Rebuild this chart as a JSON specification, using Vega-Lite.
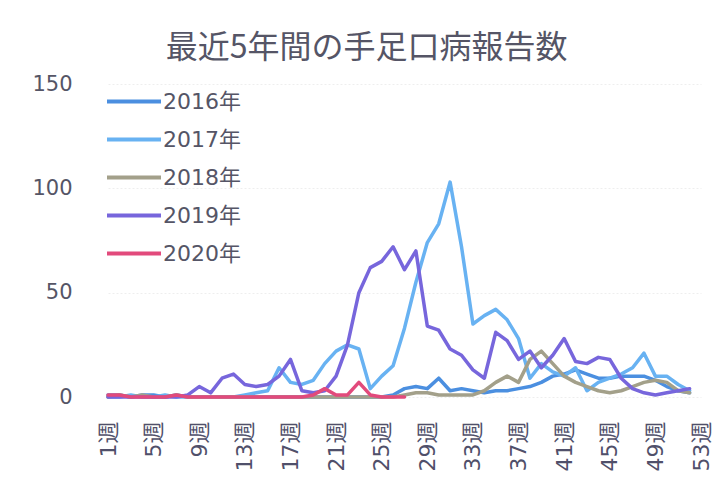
{
  "$schema": "https://vega.github.io/schema/vega-lite/v6.json",
  "width": 593,
  "height": 313,
  "autosize": "none",
  "padding": {"left": 108, "top": 84, "right": 17, "bottom": 88},
  "background": "white",
  "title": {"text": "最近5年間の手足口病報告数", "font": "Noto Sans CJK JP", "fontSize": 32, "fontWeight": "normal", "color": "#555566", "anchor": "middle", "dx": -38, "offset": 8},
  "config": {"view": {"stroke": null}},
  "data": {"values": [
    {"w":1,"y":"2016年","v":1},{"w":2,"y":"2016年","v":1},{"w":3,"y":"2016年","v":0},{"w":4,"y":"2016年","v":1},{"w":5,"y":"2016年","v":1},{"w":6,"y":"2016年","v":0},{"w":7,"y":"2016年","v":1},{"w":8,"y":"2016年","v":0},{"w":9,"y":"2016年","v":0},{"w":10,"y":"2016年","v":0},{"w":11,"y":"2016年","v":0},{"w":12,"y":"2016年","v":0},{"w":13,"y":"2016年","v":0},{"w":14,"y":"2016年","v":0},{"w":15,"y":"2016年","v":0},{"w":16,"y":"2016年","v":0},{"w":17,"y":"2016年","v":0},{"w":18,"y":"2016年","v":0},{"w":19,"y":"2016年","v":0},{"w":20,"y":"2016年","v":0},{"w":21,"y":"2016年","v":0},{"w":22,"y":"2016年","v":0},{"w":23,"y":"2016年","v":0},{"w":24,"y":"2016年","v":0},{"w":25,"y":"2016年","v":0},{"w":26,"y":"2016年","v":1},{"w":27,"y":"2016年","v":4},{"w":28,"y":"2016年","v":5},{"w":29,"y":"2016年","v":4},{"w":30,"y":"2016年","v":9},{"w":31,"y":"2016年","v":3},{"w":32,"y":"2016年","v":4},{"w":33,"y":"2016年","v":3},{"w":34,"y":"2016年","v":2},{"w":35,"y":"2016年","v":3},{"w":36,"y":"2016年","v":3},{"w":37,"y":"2016年","v":4},{"w":38,"y":"2016年","v":5},{"w":39,"y":"2016年","v":7},{"w":40,"y":"2016年","v":10},{"w":41,"y":"2016年","v":11},{"w":42,"y":"2016年","v":13},{"w":43,"y":"2016年","v":11},{"w":44,"y":"2016年","v":9},{"w":45,"y":"2016年","v":9},{"w":46,"y":"2016年","v":10},{"w":47,"y":"2016年","v":10},{"w":48,"y":"2016年","v":10},{"w":49,"y":"2016年","v":8},{"w":50,"y":"2016年","v":5},{"w":51,"y":"2016年","v":3},{"w":52,"y":"2016年","v":2},
    {"w":1,"y":"2017年","v":0},{"w":2,"y":"2017年","v":0},{"w":3,"y":"2017年","v":1},{"w":4,"y":"2017年","v":0},{"w":5,"y":"2017年","v":0},{"w":6,"y":"2017年","v":1},{"w":7,"y":"2017年","v":0},{"w":8,"y":"2017年","v":0},{"w":9,"y":"2017年","v":0},{"w":10,"y":"2017年","v":0},{"w":11,"y":"2017年","v":0},{"w":12,"y":"2017年","v":0},{"w":13,"y":"2017年","v":1},{"w":14,"y":"2017年","v":2},{"w":15,"y":"2017年","v":3},{"w":16,"y":"2017年","v":14},{"w":17,"y":"2017年","v":7},{"w":18,"y":"2017年","v":6},{"w":19,"y":"2017年","v":8},{"w":20,"y":"2017年","v":16},{"w":21,"y":"2017年","v":22},{"w":22,"y":"2017年","v":25},{"w":23,"y":"2017年","v":23},{"w":24,"y":"2017年","v":4},{"w":25,"y":"2017年","v":10},{"w":26,"y":"2017年","v":15},{"w":27,"y":"2017年","v":33},{"w":28,"y":"2017年","v":55},{"w":29,"y":"2017年","v":74},{"w":30,"y":"2017年","v":83},{"w":31,"y":"2017年","v":103},{"w":32,"y":"2017年","v":72},{"w":33,"y":"2017年","v":35},{"w":34,"y":"2017年","v":39},{"w":35,"y":"2017年","v":42},{"w":36,"y":"2017年","v":37},{"w":37,"y":"2017年","v":28},{"w":38,"y":"2017年","v":9},{"w":39,"y":"2017年","v":16},{"w":40,"y":"2017年","v":12},{"w":41,"y":"2017年","v":10},{"w":42,"y":"2017年","v":14},{"w":43,"y":"2017年","v":3},{"w":44,"y":"2017年","v":7},{"w":45,"y":"2017年","v":9},{"w":46,"y":"2017年","v":11},{"w":47,"y":"2017年","v":14},{"w":48,"y":"2017年","v":21},{"w":49,"y":"2017年","v":10},{"w":50,"y":"2017年","v":10},{"w":51,"y":"2017年","v":6},{"w":52,"y":"2017年","v":3},
    {"w":1,"y":"2018年","v":0},{"w":2,"y":"2018年","v":1},{"w":3,"y":"2018年","v":0},{"w":4,"y":"2018年","v":1},{"w":5,"y":"2018年","v":0},{"w":6,"y":"2018年","v":0},{"w":7,"y":"2018年","v":1},{"w":8,"y":"2018年","v":0},{"w":9,"y":"2018年","v":0},{"w":10,"y":"2018年","v":0},{"w":11,"y":"2018年","v":0},{"w":12,"y":"2018年","v":0},{"w":13,"y":"2018年","v":0},{"w":14,"y":"2018年","v":0},{"w":15,"y":"2018年","v":0},{"w":16,"y":"2018年","v":0},{"w":17,"y":"2018年","v":0},{"w":18,"y":"2018年","v":0},{"w":19,"y":"2018年","v":0},{"w":20,"y":"2018年","v":0},{"w":21,"y":"2018年","v":0},{"w":22,"y":"2018年","v":0},{"w":23,"y":"2018年","v":0},{"w":24,"y":"2018年","v":0},{"w":25,"y":"2018年","v":0},{"w":26,"y":"2018年","v":0},{"w":27,"y":"2018年","v":1},{"w":28,"y":"2018年","v":2},{"w":29,"y":"2018年","v":2},{"w":30,"y":"2018年","v":1},{"w":31,"y":"2018年","v":1},{"w":32,"y":"2018年","v":1},{"w":33,"y":"2018年","v":1},{"w":34,"y":"2018年","v":3},{"w":35,"y":"2018年","v":7},{"w":36,"y":"2018年","v":10},{"w":37,"y":"2018年","v":7},{"w":38,"y":"2018年","v":18},{"w":39,"y":"2018年","v":22},{"w":40,"y":"2018年","v":16},{"w":41,"y":"2018年","v":10},{"w":42,"y":"2018年","v":7},{"w":43,"y":"2018年","v":5},{"w":44,"y":"2018年","v":3},{"w":45,"y":"2018年","v":2},{"w":46,"y":"2018年","v":3},{"w":47,"y":"2018年","v":5},{"w":48,"y":"2018年","v":7},{"w":49,"y":"2018年","v":8},{"w":50,"y":"2018年","v":7},{"w":51,"y":"2018年","v":3},{"w":52,"y":"2018年","v":2},
    {"w":1,"y":"2019年","v":0},{"w":2,"y":"2019年","v":0},{"w":3,"y":"2019年","v":0},{"w":4,"y":"2019年","v":0},{"w":5,"y":"2019年","v":0},{"w":6,"y":"2019年","v":0},{"w":7,"y":"2019年","v":0},{"w":8,"y":"2019年","v":1},{"w":9,"y":"2019年","v":5},{"w":10,"y":"2019年","v":2},{"w":11,"y":"2019年","v":9},{"w":12,"y":"2019年","v":11},{"w":13,"y":"2019年","v":6},{"w":14,"y":"2019年","v":5},{"w":15,"y":"2019年","v":6},{"w":16,"y":"2019年","v":10},{"w":17,"y":"2019年","v":18},{"w":18,"y":"2019年","v":3},{"w":19,"y":"2019年","v":2},{"w":20,"y":"2019年","v":3},{"w":21,"y":"2019年","v":10},{"w":22,"y":"2019年","v":25},{"w":23,"y":"2019年","v":50},{"w":24,"y":"2019年","v":62},{"w":25,"y":"2019年","v":65},{"w":26,"y":"2019年","v":72},{"w":27,"y":"2019年","v":61},{"w":28,"y":"2019年","v":70},{"w":29,"y":"2019年","v":34},{"w":30,"y":"2019年","v":32},{"w":31,"y":"2019年","v":23},{"w":32,"y":"2019年","v":20},{"w":33,"y":"2019年","v":13},{"w":34,"y":"2019年","v":9},{"w":35,"y":"2019年","v":31},{"w":36,"y":"2019年","v":27},{"w":37,"y":"2019年","v":18},{"w":38,"y":"2019年","v":22},{"w":39,"y":"2019年","v":14},{"w":40,"y":"2019年","v":20},{"w":41,"y":"2019年","v":28},{"w":42,"y":"2019年","v":17},{"w":43,"y":"2019年","v":16},{"w":44,"y":"2019年","v":19},{"w":45,"y":"2019年","v":18},{"w":46,"y":"2019年","v":9},{"w":47,"y":"2019年","v":4},{"w":48,"y":"2019年","v":2},{"w":49,"y":"2019年","v":1},{"w":50,"y":"2019年","v":2},{"w":51,"y":"2019年","v":3},{"w":52,"y":"2019年","v":4},
    {"w":1,"y":"2020年","v":1},{"w":2,"y":"2020年","v":1},{"w":3,"y":"2020年","v":0},{"w":4,"y":"2020年","v":0},{"w":5,"y":"2020年","v":0},{"w":6,"y":"2020年","v":0},{"w":7,"y":"2020年","v":1},{"w":8,"y":"2020年","v":0},{"w":9,"y":"2020年","v":0},{"w":10,"y":"2020年","v":0},{"w":11,"y":"2020年","v":0},{"w":12,"y":"2020年","v":0},{"w":13,"y":"2020年","v":0},{"w":14,"y":"2020年","v":0},{"w":15,"y":"2020年","v":0},{"w":16,"y":"2020年","v":0},{"w":17,"y":"2020年","v":0},{"w":18,"y":"2020年","v":0},{"w":19,"y":"2020年","v":1},{"w":20,"y":"2020年","v":4},{"w":21,"y":"2020年","v":1},{"w":22,"y":"2020年","v":1},{"w":23,"y":"2020年","v":7},{"w":24,"y":"2020年","v":1},{"w":25,"y":"2020年","v":0},{"w":26,"y":"2020年","v":0},{"w":27,"y":"2020年","v":0}
  ]},
  "mark": {"type": "line", "strokeWidth": 3.5, "strokeJoin": "round", "strokeCap": "round"},
  "encoding": {
    "x": {"field": "w", "type": "quantitative",
      "scale": {"domain": [1, 53], "nice": false, "zero": false},
      "axis": {"values": [1,5,9,13,17,21,25,29,33,37,41,45,49,53], "labelExpr": "datum.value + '週'", "labelAngle": -90, "title": null, "grid": false, "ticks": false, "domain": false, "labelFont": "DejaVu Sans, Noto Sans CJK JP", "labelFontSize": 22, "labelColor": "#50506a", "labelPadding": 24, "labelOverlap": false, "labelBound": false}},
    "y": {"field": "v", "type": "quantitative",
      "scale": {"domain": [0, 150], "nice": false},
      "axis": {"values": [0, 50, 100, 150], "title": null, "ticks": false, "domain": false, "labelFont": "DejaVu Sans", "labelFontSize": 21, "labelColor": "#555566", "labelPadding": 36, "gridColor": "#eeeeee", "gridDash": [2, 2]}},
    "color": {"field": "y", "type": "nominal",
      "scale": {"domain": ["2016年", "2017年", "2018年", "2019年", "2020年"], "range": ["#4b8fe0", "#68b2f2", "#a3a08a", "#7766dc", "#e24a7c"]},
      "legend": {"orient": "none", "legendX": -3, "legendY": 2, "title": null, "symbolType": "M-1,0H3", "symbolSize": 729, "symbolStrokeWidth": 4, "labelOffset": 27, "labelFont": "DejaVu Sans, Noto Sans CJK JP", "labelFontSize": 22, "labelColor": "#555566", "rowPadding": 11}}
  }
}
